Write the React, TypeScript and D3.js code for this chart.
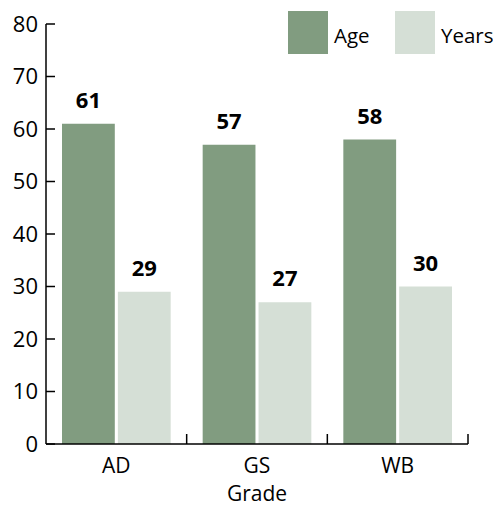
import React from "react";
import * as d3 from "d3";

const categories = ["AD", "GS", "WB"];
const seriesNames = ["Age", "Years"];
const ageValues = [61, 57, 58];
const yearsValues = [29, 27, 30];
const yTicks = [0, 10, 20, 30, 40, 50, 60, 70, 80];
const colors = ["#819c80", "#d5dfd6"];

const W = 493;
const H = 506;
const margin = { left: 46, right: 25, top: 24, bottom: 62 };
const font = "'Open Sans', sans-serif";

export default function App() {
  const x = d3
    .scaleBand<string>()
    .domain(categories)
    .range([margin.left, W - margin.right])
    .paddingInner(0)
    .paddingOuter(0);
  const y = d3.scaleLinear().domain([0, 80]).range([H - margin.bottom, margin.top]);
  const inner = d3
    .scaleBand<string>()
    .domain(seriesNames)
    .range([16, x.bandwidth() - 16])
    .paddingInner(0.055);

  const series = [ageValues, yearsValues];
  const y0 = y(0);

  return (
    <svg
      width={W}
      height={H}
      style={{ position: "absolute", left: 0, top: 0, background: "#fff" }}
      fontFamily={font}
    >
      {categories.map((c, i) =>
        seriesNames.map((s, j) => {
          const v = series[j][i];
          const bx = (x(c) as number) + (inner(s) as number);
          return (
            <g key={c + s}>
              <rect
                x={bx}
                y={y(v)}
                width={inner.bandwidth()}
                height={y0 - y(v)}
                fill={colors[j]}
              />
              <text
                x={bx + inner.bandwidth() / 2}
                y={y(v) - 16}
                textAnchor="middle"
                fontSize={22}
                fontWeight="bold"
                fill="#000"
              >
                {v}
              </text>
            </g>
          );
        })
      )}

      {/* y axis */}
      <line x1={margin.left} x2={margin.left} y1={y(80)} y2={y0} stroke="#000" strokeWidth={1.5} />
      {yTicks.map((t) => (
        <g key={t}>
          <line x1={margin.left} x2={margin.left + 9} y1={y(t)} y2={y(t)} stroke="#000" strokeWidth={1.5} />
          <text x={margin.left - 8} y={y(t)} dy="0.36em" textAnchor="end" fontSize={22} fill="#000">
            {t}
          </text>
        </g>
      ))}

      {/* x axis */}
      <line x1={margin.left} x2={W - margin.right} y1={y0} y2={y0} stroke="#000" strokeWidth={1.5} />
      {categories.map((c) => (
        <g key={c}>
          <line
            x1={(x(c) as number) + x.bandwidth()}
            x2={(x(c) as number) + x.bandwidth()}
            y1={y0}
            y2={y0 - 10}
            stroke="#000"
            strokeWidth={1.5}
          />
          <text
            x={(x(c) as number) + x.bandwidth() / 2}
            y={y0 + 29}
            textAnchor="middle"
            fontSize={21}
            fill="#000"
          >
            {c}
          </text>
        </g>
      ))}
      <text x={(margin.left + W - margin.right) / 2} y={y0 + 56.5} textAnchor="middle" fontSize={21} fill="#000">
        Grade
      </text>

      {/* legend */}
      {seriesNames.map((s, j) => (
        <g key={s} transform={`translate(${288 + j * 107}, 11)`}>
          <rect width={40} height={43} fill={colors[j]} />
          <text x={46} y={32} fontSize={20.5} fill="#000">
            {s}
          </text>
        </g>
      ))}
    </svg>
  );
}
